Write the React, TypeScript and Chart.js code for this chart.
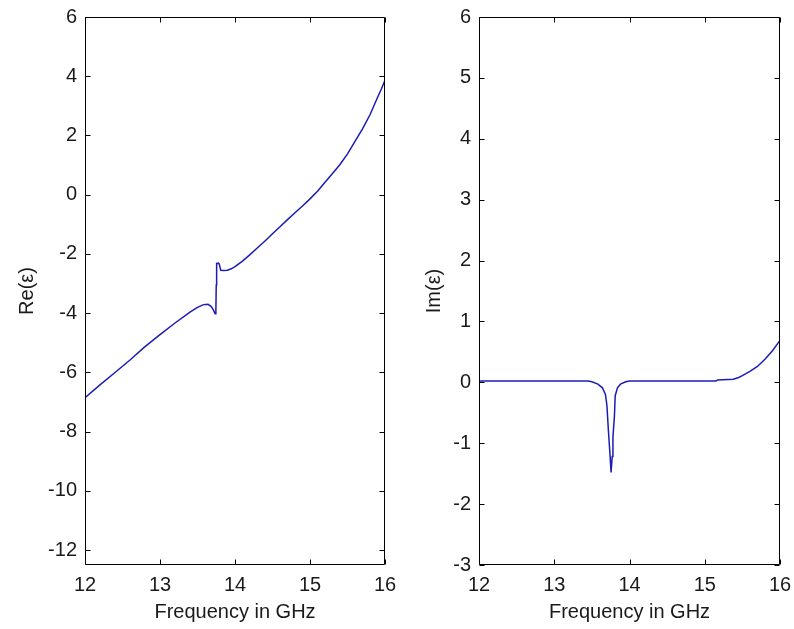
import React, { useEffect, useRef } from "react";
import { Chart, registerables } from "chart.js";

Chart.register(...registerables);

// ---- data ----
const freqRe = [
  12.0, 12.2, 12.4, 12.6, 12.8, 13.0, 13.2, 13.4, 13.5, 13.58, 13.64, 13.68, 13.71, 13.735,
  13.745, 13.75, 13.755, 13.78, 13.79, 13.81, 13.85, 13.9, 13.95, 14.0, 14.1, 14.2, 14.3,
  14.4, 14.5, 14.6, 14.7, 14.8, 14.9, 15.0, 15.1, 15.2, 15.3, 15.4, 15.5, 15.6, 15.7, 15.8,
  15.9, 15.95, 16.0,
];
const reEps = [
  -6.85, -6.42, -6.0, -5.58, -5.13, -4.72, -4.33, -3.96, -3.8, -3.71, -3.7, -3.77, -3.88,
  -4.02, -3.9, -3.05, -2.32, -2.31, -2.34, -2.55, -2.56, -2.55, -2.5, -2.43, -2.24, -2.02,
  -1.79, -1.56, -1.32, -1.08, -0.84, -0.61, -0.38, -0.14, 0.12, 0.42, 0.72, 1.02, 1.38, 1.8,
  2.22, 2.7, 3.28, 3.56, 3.86,
];

const freqIm = [
  12.0, 13.45, 13.5, 13.58, 13.64, 13.68, 13.7, 13.72, 13.74, 13.755, 13.77, 13.78, 13.8,
  13.81, 13.84, 13.88, 13.95, 14.0, 15.15, 15.17, 15.38, 15.45, 15.5, 15.6, 15.7, 15.8, 15.9,
  16.0,
];
const imEps = [
  0.02, 0.02, 0.01, -0.03, -0.09, -0.2, -0.38, -0.8, -1.17, -1.48, -1.22, -0.9, -0.55, -0.22,
  -0.09, -0.03, 0.01, 0.02, 0.02, 0.04, 0.05, 0.08, 0.11, 0.18, 0.26, 0.38, 0.52, 0.69,
];

const freqTicks = [12, 13, 14, 15, 16];
const reTicks = [-12, -10, -8, -6, -4, -2, 0, 2, 4, 6];
const imTicks = [-3, -2, -1, 0, 1, 2, 3, 4, 5, 6];

const FONT = "'Liberation Sans', Arial, Helvetica, sans-serif";
const TEXT = "#1a1a1a";
const LINE = "#1c1cb4";

const framePlugin = {
  id: "matlabFrame",
  afterDatasetsDraw(chart: any) {
    const { ctx, chartArea: a, scales } = chart;
    const L = Math.round(a.left) + 0.5;
    const R = Math.round(a.right) - 0.5;
    const T = Math.round(a.top) + 0.5;
    const B = Math.round(a.bottom) - 0.5;
    const tl = 5;
    ctx.save();
    ctx.strokeStyle = "#000";
    ctx.lineWidth = 1;
    ctx.beginPath();
    ctx.rect(L, T, R - L, B - T);
    scales.x.ticks.forEach((t: any) => {
      const px = Math.round(scales.x.getPixelForValue(t.value)) + 0.5;
      ctx.moveTo(px, B);
      ctx.lineTo(px, B - tl);
      ctx.moveTo(px, T);
      ctx.lineTo(px, T + tl);
    });
    scales.y.ticks.forEach((t: any) => {
      const py = Math.round(scales.y.getPixelForValue(t.value)) + 0.5;
      ctx.moveTo(L, py);
      ctx.lineTo(L + tl, py);
      ctx.moveTo(R, py);
      ctx.lineTo(R - tl, py);
    });
    ctx.stroke();
    ctx.restore();
  },
};

type PanelProps = {
  xs: number[];
  ys: number[];
  yTicks: number[];
  yMin: number;
  yMax: number;
  yLabel: string;
  left: number;
  yAxisWidth: number;
  padRight: number;
  titlePad: number;
};

function zeroPad(s: any) {
  s.paddingLeft = 0;
  s.paddingRight = 0;
  s.paddingTop = 0;
  s.paddingBottom = 0;
}

function Panel(p: PanelProps) {
  const ref = useRef<HTMLCanvasElement | null>(null);
  useEffect(() => {
    if (!ref.current) return;
    const data = p.xs.map((x, i) => ({ x, y: p.ys[i] }));
    const chart = new Chart(ref.current, {
      type: "line",
      data: {
        datasets: [
          {
            data,
            borderColor: LINE,
            borderWidth: 1.5,
            pointRadius: 0,
            tension: 0,
            fill: false,
          },
        ],
      },
      options: {
        animation: false,
        responsive: false,
        devicePixelRatio: 1,
        layout: { padding: { left: 0, top: 17, right: p.padRight, bottom: 0 } },
        plugins: { legend: { display: false }, tooltip: { enabled: false } },
        scales: {
          x: {
            type: "linear",
            min: 12,
            max: 16,
            afterBuildTicks: (s: any) => {
              s.ticks = freqTicks.map((v) => ({ value: v }));
            },
            afterFit: (s: any) => {
              s.height = 64;
              zeroPad(s);
            },
            grid: { display: false, drawTicks: false },
            border: { display: false },
            ticks: {
              color: TEXT,
              font: { family: FONT, size: 20 },
              padding: 8,
              maxRotation: 0,
              autoSkip: false,
            },
            title: {
              display: true,
              text: "Frequency in GHz",
              color: TEXT,
              font: { family: FONT, size: 20 },
              padding: { top: 0, bottom: 5 },
            },
          },
          y: {
            type: "linear",
            min: p.yMin,
            max: p.yMax,
            afterBuildTicks: (s: any) => {
              s.ticks = p.yTicks.map((v) => ({ value: v }));
            },
            afterFit: (s: any) => {
              s.width = p.yAxisWidth;
              zeroPad(s);
            },
            grid: { display: false, drawTicks: false },
            border: { display: false },
            ticks: {
              color: TEXT,
              font: { family: FONT, size: 20 },
              padding: 8,
              autoSkip: false,
            },
            title: {
              display: true,
              text: p.yLabel,
              color: TEXT,
              font: { family: FONT, size: 20 },
              padding: { top: p.titlePad, bottom: 0 },
            },
          },
        },
      },
      plugins: [framePlugin],
    });
    return () => chart.destroy();
  }, []);
  return (
    <canvas
      ref={ref}
      width={397}
      height={629}
      style={{ position: "absolute", left: p.left, top: 0, width: 397, height: 629, display: "block" }}
    />
  );
}

export default function App() {
  return (
    <div
      style={{
        position: "fixed",
        left: 0,
        top: 0,
        width: 794,
        height: 629,
        background: "#fff",
        overflow: "hidden",
      }}
    >
      <Panel
        xs={freqRe}
        ys={reEps}
        yTicks={reTicks}
        yMin={-12.5}
        yMax={6}
        yLabel="Re(ε)"
        left={0}
        yAxisWidth={85}
        padRight={12}
        titlePad={15}
      />
      <Panel
        xs={freqIm}
        ys={imEps}
        yTicks={imTicks}
        yMin={-3}
        yMax={6}
        yLabel="Im(ε)"
        left={397}
        yAxisWidth={82}
        padRight={14}
        titlePad={25}
      />
    </div>
  );
}
